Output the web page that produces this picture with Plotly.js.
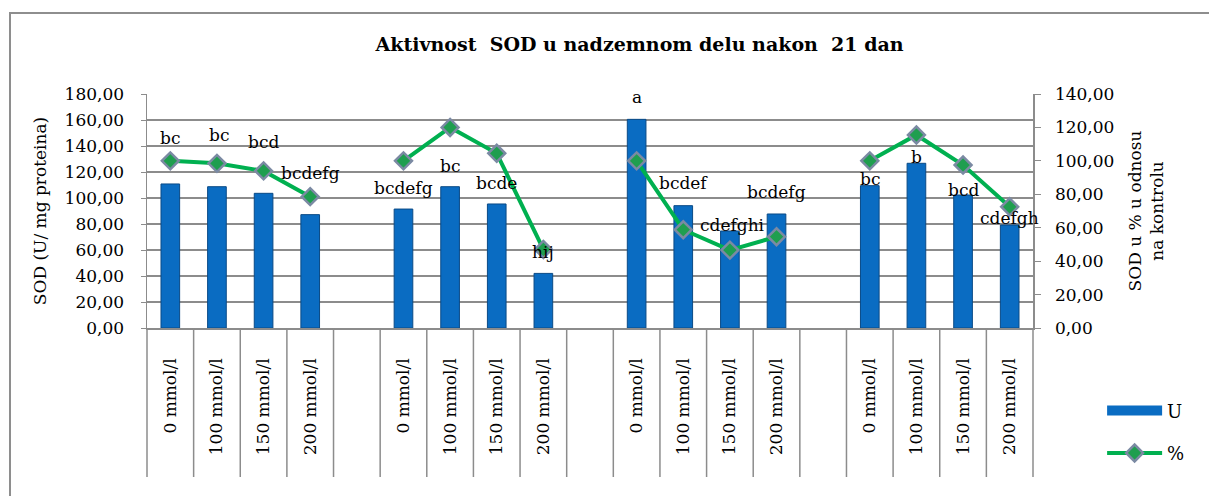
<!DOCTYPE html>
<html><head><meta charset="utf-8">
<script src="https://cdn.plot.ly/plotly-3.0.1.min.js"></script>
<style>
html,body{margin:0;padding:0;background:#fff}
#chart{width:1209px;height:496px;position:absolute;left:0;top:0}
#frame{position:absolute;left:9px;top:12px;width:1300px;height:600px;border-left:2px solid #8e8e8e;border-top:2px solid #8e8e8e;pointer-events:none}
</style>
</head><body><div id="chart"></div><div id="frame"></div>
<script>
// ---- data ----
const concentrations = ['0 mmol/l', '100 mmol/l', '150 mmol/l', '200 mmol/l'];
const groupCount = 4;
const sodU = [110.8, 108.7, 103.6, 87.2,
              91.5, 108.7, 95.4, 42.0,
              160.5, 94.1, 74.6, 87.7,
              109.5, 126.7, 102.3, 79.2];
const sodPct = [100, 98.5, 94.0, 78.6,
                100, 120.0, 104.5, 47.0,
                100, 58.8, 46.6, 54.6,
                100, 115.5, 97.5, 72.5];
const letters = ['bc', 'bc', 'bcd', 'bcdefg',
                 'bcdefg', 'bc', 'bcde', 'hij',
                 'a', 'bcdef', 'cdefghi', 'bcdefg',
                 'bc', 'b', 'bcd', 'cdefgh'];

// ---- layout helpers ----
const perGroup = concentrations.length;
const slotStep = perGroup + 1; // one empty slot between groups
const nSlots = groupCount * slotStep - 1;
const xs = [], tickText = [];
for (let g = 0; g < groupCount; g++) {
  for (let k = 0; k < perGroup; k++) { xs.push(g * slotStep + k); tickText.push(concentrations[k]); }
}
// line with breaks between groups
const lineX = [], lineY = [];
for (let i = 0; i < xs.length; i++) {
  lineX.push(xs[i]); lineY.push(sodPct[i]);
  if (i % perGroup === perGroup - 1 && i < xs.length - 1) { lineX.push(xs[i] + 1); lineY.push(null); }
}
// label heights (left-axis units) for the letter annotations
const letterY = [146, 148.5, 143, 119, 107.7, 125, 111.5, 58.5, 177.7, 111.5, 79, 104.6, 114.6, 131.5, 106, 84.6];
const letterDx = [0, 2, 0, 0, 0, 0, 0, 0, 0, 0, 3, 0, 0, 0, 0, 0];

const FONT = 'DejaVu Serif';
const grid = '#8c8c8c';
const barBlue = '#0a6cc2';

const annotations = letters.map((t, i) => ({
  x: xs[i], y: letterY[i], xref: 'x', yref: 'y', text: t, showarrow: false,
  xshift: letterDx[i], font: {family: FONT, size: 17, color: '#000'}
}));

const shapes = [];
const sepBottom = -(477 - 328) / 234;
for (let b = 0; b <= nSlots; b++) {
  const xp = b / nSlots;
  shapes.push({type: 'line', xref: 'paper', yref: 'paper', x0: xp, x1: xp, y0: 0, y1: sepBottom,
    line: {color: grid, width: 1.5}});
}

const traces = [
  {type: 'bar', x: xs, y: sodU, name: 'U', width: 0.4, showlegend: false,
   marker: {color: barBlue, line: {color: '#0a4a86', width: 1}}, hoverinfo: 'y'},
  // legend stand-in for the bar series (wide bar swatch)
  {type: 'scatter', mode: 'lines', x: [null], y: [null], name: 'U', legendgroup: 'u',
   line: {color: barBlue, width: 11}, hoverinfo: 'skip'},
  {type: 'scatter', mode: 'lines+markers', x: lineX, y: lineY, yaxis: 'y2', name: '%',
   connectgaps: false,
   line: {color: '#00b050', width: 4},
   marker: {symbol: 'diamond', size: 13, color: '#1f9e4f', line: {color: '#7b8aa3', width: 2.5}},
   legendgroup: 'p', hoverinfo: 'y'}
];

const layout = {
  width: 1209, height: 496,
  margin: {l: 147, r: 176, t: 94, b: 168},
  paper_bgcolor: '#fff', plot_bgcolor: '#fff',
  separators: ', ',
  font: {family: FONT, size: 17, color: '#000'},
  showlegend: true,
  title: {text: 'Aktivnost  SOD u nadzemnom delu nakon  21 dan', font: {family: FONT, size: 19, color: '#000', weight: 'bold'},
    x: 0.529, xref: 'container', xanchor: 'center', y: 0.91, yref: 'container', yanchor: 'middle'},
  xaxis: {range: [-0.5, nSlots - 0.5], tickmode: 'array', tickvals: xs, ticktext: tickText,
    tickangle: -90, ticks: 'outside', ticklen: 22, tickcolor: 'rgba(0,0,0,0)',
    showgrid: false, zeroline: false, showline: true, linecolor: grid, linewidth: 1.5,
    tickfont: {family: FONT, size: 17}},
  yaxis: {range: [0, 180], dtick: 20, tickformat: '.2f', showgrid: true, gridcolor: grid, gridwidth: 1.5,
    zeroline: false, showline: true, linecolor: grid, linewidth: 1.5, ticks: 'outside', ticklen: 5, tickcolor: grid,
    ticklabelstandoff: 13,
    tickfont: {family: FONT, size: 17},
    title: {text: 'SOD (U/ mg proteina)', font: {family: FONT, size: 17}, standoff: 13}},
  yaxis2: {range: [0, 140], dtick: 20, tickformat: '.2f', overlaying: 'y', side: 'right', showgrid: false,
    zeroline: false, showline: true, linecolor: grid, linewidth: 1.5, ticks: 'outside', ticklen: 6, tickcolor: grid,
    ticklabelstandoff: 11,
    tickfont: {family: FONT, size: 17},
    title: {text: 'SOD u % u odnosu<br>na kontrolu', font: {family: FONT, size: 17}, standoff: 15}},
  legend: {x: 1.078, xanchor: 'left', y: -0.275, yanchor: 'top', traceorder: 'grouped', tracegroupgap: 16,
    itemwidth: 55, font: {family: FONT, size: 18}, bgcolor: 'rgba(0,0,0,0)'},
  annotations: annotations,
  shapes: shapes
};

Plotly.newPlot('chart', traces, layout, {displayModeBar: false, staticPlot: true});
</script>
</body></html>
